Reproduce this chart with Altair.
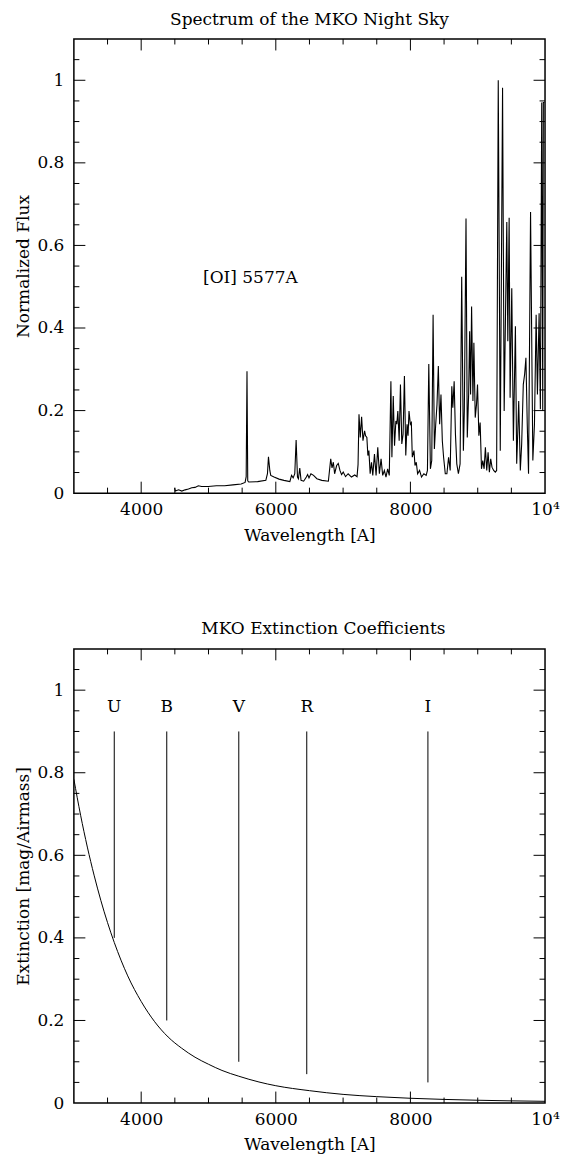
import altair as alt
import pandas as pd

# ---------------- data ----------------
spec_wavelength = [
    4497, 4507, 4556, 4604, 4653, 4702, 4751, 4800, 4849, 4898, 4996, 5118, 5240, 5363,
    5485, 5544, 5560, 5572, 5583, 5598, 5730, 5852, 5876, 5891, 5911, 5925, 5974, 6048,
    6121, 6209, 6234, 6258, 6282, 6302, 6322, 6336, 6356, 6375, 6414, 6454, 6473, 6493,
    6522, 6561, 6610, 6684, 6781, 6816, 6835, 6855, 6874, 6904, 6928, 6953, 6977, 7002,
    7036, 7075, 7124, 7173, 7207, 7222, 7236, 7255, 7275, 7295, 7319, 7334, 7353, 7368,
    7383, 7402, 7422, 7441, 7466, 7490, 7515, 7539, 7564, 7588, 7613, 7637, 7662, 7686,
    7710, 7725, 7745, 7764, 7784, 7798, 7813, 7833, 7852, 7872, 7891, 7911, 7931, 7950,
    7965, 7979, 7999, 8014, 8028, 8053, 8068, 8087, 8107, 8136, 8165, 8200, 8234, 8253,
    8273, 8297, 8317, 8337, 8356, 8376, 8395, 8415, 8434, 8454, 8474, 8493, 8518, 8542,
    8567, 8591, 8615, 8630, 8650, 8669, 8689, 8713, 8738, 8762, 8787, 8801, 8826, 8845,
    8865, 8880, 8894, 8909, 8929, 8943, 8963, 8982, 8997, 9017, 9036, 9056, 9075, 9095,
    9114, 9134, 9154, 9173, 9193, 9212, 9237, 9261, 9281, 9305, 9335, 9369, 9393, 9432,
    9447, 9467, 9481, 9506, 9530, 9560, 9579, 9594, 9609, 9633, 9653, 9677, 9697, 9716,
    9736, 9755, 9785, 9819, 9843, 9868, 9887, 9912, 9931, 9951, 9966, 9975, 9990,
]
spec_flux = [
    0.013, 0.005, 0.008, 0.005, 0.008, 0.010, 0.013, 0.014, 0.018, 0.016, 0.016, 0.018, 0.018, 0.020,
    0.022, 0.026, 0.040, 0.295, 0.030, 0.027, 0.028, 0.031, 0.047, 0.088, 0.055, 0.043, 0.039, 0.034,
    0.031, 0.028, 0.043, 0.037, 0.047, 0.129, 0.039, 0.035, 0.061, 0.031, 0.029, 0.039, 0.045, 0.037,
    0.047, 0.043, 0.035, 0.031, 0.029, 0.083, 0.061, 0.075, 0.047, 0.067, 0.072, 0.055, 0.045, 0.051,
    0.040, 0.047, 0.039, 0.044, 0.040, 0.069, 0.191, 0.135, 0.185, 0.127, 0.151, 0.139, 0.135, 0.091,
    0.103, 0.047, 0.075, 0.043, 0.095, 0.043, 0.111, 0.047, 0.083, 0.043, 0.055, 0.039, 0.059, 0.043,
    0.271, 0.087, 0.235, 0.115, 0.175, 0.167, 0.199, 0.127, 0.263, 0.119, 0.143, 0.284, 0.091, 0.167,
    0.139, 0.199, 0.167, 0.171, 0.087, 0.103, 0.067, 0.075, 0.047, 0.055, 0.039, 0.047, 0.043, 0.055,
    0.313, 0.059, 0.079, 0.432, 0.107, 0.167, 0.215, 0.308, 0.167, 0.239, 0.127, 0.087, 0.047, 0.047,
    0.087, 0.055, 0.259, 0.207, 0.271, 0.143, 0.071, 0.047, 0.071, 0.524, 0.103, 0.199, 0.665, 0.135,
    0.239, 0.392, 0.239, 0.452, 0.223, 0.364, 0.183, 0.215, 0.263, 0.139, 0.171, 0.059, 0.079, 0.059,
    0.111, 0.055, 0.099, 0.051, 0.083, 0.063, 0.055, 0.051, 0.055, 1.000, 0.103, 0.982, 0.199, 0.657,
    0.368, 0.667, 0.231, 0.496, 0.127, 0.404, 0.071, 0.143, 0.223, 0.055, 0.119, 0.263, 0.288, 0.328,
    0.167, 0.047, 0.681, 0.079, 0.167, 0.432, 0.239, 0.436, 0.203, 0.946, 0.199, 0.946, 0.946,
]

ext_wavelength = [3000, 3100, 3200, 3300, 3400, 3500, 3600, 3800, 4000, 4200, 4400, 4600, 4800,
                  5000, 5200, 5450, 5750, 6000, 6500, 7000, 7500, 8000, 8500, 9000, 9500, 10000]
ext_coeff = [0.784, 0.697, 0.620, 0.552, 0.491, 0.437, 0.389, 0.308, 0.246, 0.197, 0.160, 0.133, 0.111,
             0.094, 0.079, 0.065, 0.051, 0.042, 0.030, 0.021, 0.0155, 0.0116, 0.0088, 0.0068, 0.0053,
             0.0042]

band_names = ["U", "B", "V", "R", "I"]
band_wavelength = [3600, 4380, 5450, 6460, 8260]
band_low = [0.40, 0.20, 0.10, 0.07, 0.05]
band_high = [0.90, 0.90, 0.90, 0.90, 0.90]
band_label_y = [0.96, 0.96, 0.96, 0.96, 0.96]

line_label = ["[OI] 5577A"]
line_label_x = [4920]
line_label_y = [0.52]

x_label_values = [4000, 6000, 8000, 10000]
x_major_ticks = [4000, 6000, 8000]
x_minor_ticks = [3500, 4500, 5000, 5500, 6500, 7000, 7500, 8500, 9000, 9500]
y_label_values = [0, 0.2, 0.4, 0.6, 0.8, 1.0]
y_major_ticks = [0.2, 0.4, 0.6, 0.8, 1.0]
y_minor_ticks = [0.05, 0.1, 0.15, 0.25, 0.3, 0.35, 0.45, 0.5, 0.55, 0.65, 0.7, 0.75,
                 0.85, 0.9, 0.95, 1.05]

# ---------------- styling ----------------
FONT = "DejaVu Serif"
FS = 17
W, H = 472, 455
MAJ, MIN = 11.5, 5.5

xscale = alt.Scale(domain=[3000, 10000], nice=False, zero=False)
yscale = alt.Scale(domain=[0, 1.1], nice=False, zero=False)
XTITLE = "Wavelength [A]"


def x_axis():
    return alt.Axis(values=x_label_values,
                    labelExpr="datum.value == 10000 ? '10\u2074' : format(datum.value, 'd')",
                    ticks=False, domain=False, grid=False, labelFlush=False,
                    labelOverlap=False, labelPadding=8, titlePadding=10)


def y_axis():
    return alt.Axis(values=y_label_values, labelExpr="format(datum.value, '~g')",
                    ticks=False, domain=False, grid=False, labelFlush=False,
                    labelOverlap=False, labelPadding=10, titlePadding=4)


def X(field):
    return alt.X(field, scale=xscale, axis=x_axis(), title=XTITLE)


def Y(field, ytitle):
    return alt.Y(field, scale=yscale, axis=y_axis(), title=ytitle)


def tick_layers(ytitle):
    layers = []
    for vals, ln in ((x_major_ticks, MAJ), (x_minor_ticks, MIN)):
        df = pd.DataFrame({"t": vals})
        base = alt.Chart(df).mark_rule(color="black", strokeWidth=1)
        layers.append(base.encode(x=X("t:Q"), y=alt.value(H), y2=alt.value(H - ln)))
        layers.append(base.encode(x=X("t:Q"), y=alt.value(0), y2=alt.value(ln)))
    for vals, ln in ((y_major_ticks, MAJ), (y_minor_ticks, MIN)):
        df = pd.DataFrame({"t": vals})
        base = alt.Chart(df).mark_rule(color="black", strokeWidth=1)
        layers.append(base.encode(y=Y("t:Q", ytitle), x=alt.value(0), x2=alt.value(ln)))
        layers.append(base.encode(y=Y("t:Q", ytitle), x=alt.value(W), x2=alt.value(W - ln)))
    return layers


def title(text, dx=0):
    return alt.TitleParams(text=text, font=FONT, fontSize=FS, fontWeight="normal",
                           color="black", anchor="middle", offset=10, dx=dx)


# ---------------- top panel: spectrum ----------------
T1 = "Normalized Flux"
spec_df = pd.DataFrame({"lam": spec_wavelength, "flux": spec_flux})
spec_line = alt.Chart(spec_df).mark_line(color="black", strokeWidth=1.1, clip=True).encode(
    x=X("lam:Q"), y=Y("flux:Q", T1))
ann_df = pd.DataFrame({"x": line_label_x, "y": line_label_y, "label": line_label})
ann = alt.Chart(ann_df).mark_text(align="left", baseline="middle", font=FONT,
                                  fontSize=FS, color="black").encode(
    x=X("x:Q"), y=Y("y:Q", T1), text="label:N")
top = alt.layer(spec_line, ann, *tick_layers(T1)).properties(
    width=W, height=H, title=title("Spectrum of the MKO Night Sky"))

# ---------------- bottom panel: extinction ----------------
T2 = "Extinction [mag/Airmass]"
ext_df = pd.DataFrame({"lam": ext_wavelength, "k": ext_coeff})
ext_line = alt.Chart(ext_df).mark_line(color="black", strokeWidth=1, interpolate="monotone",
                                       clip=True).encode(x=X("lam:Q"), y=Y("k:Q", T2))
band_df = pd.DataFrame({"name": band_names, "lam": band_wavelength, "lo": band_low,
                        "hi": band_high, "ly": band_label_y})
bars = alt.Chart(band_df).mark_rule(color="black", strokeWidth=1).encode(
    x=X("lam:Q"), y=Y("lo:Q", T2), y2="hi:Q")
band_text = alt.Chart(band_df).mark_text(baseline="middle", align="center", font=FONT,
                                         fontSize=FS, color="black").encode(
    x=X("lam:Q"), y=Y("ly:Q", T2), text="name:N")
bottom = alt.layer(ext_line, bars, band_text, *tick_layers(T2)).properties(
    width=W, height=H, title=title("MKO Extinction Coefficients", dx=14))

chart = alt.vconcat(top, bottom, spacing=75).properties(
    padding={"left": 6, "top": 0, "right": 0, "bottom": 0}
).configure_view(stroke="black", strokeWidth=1.5).configure_axis(
    labelFont=FONT, labelFontSize=FS, labelColor="black",
    titleFont=FONT, titleFontSize=FS, titleFontWeight="normal", titleColor="black",
)

chart.save("out.html", embed_options={"renderer": "svg", "actions": False})
